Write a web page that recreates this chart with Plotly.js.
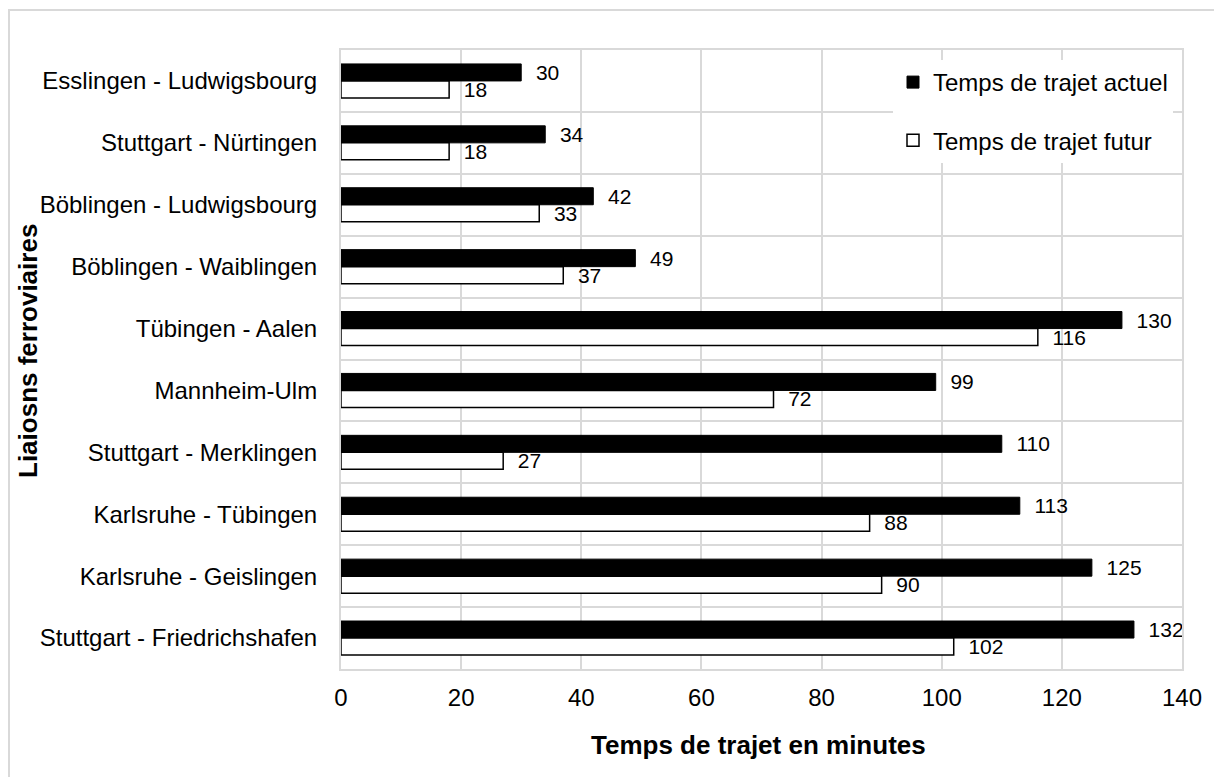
<!DOCTYPE html>
<html>
<head>
<meta charset="utf-8">
<script src="https://cdn.plot.ly/plotly-3.0.1.min.js"></script>
<style>
html,body{margin:0;padding:0;background:#fff;}
#chart{width:1214px;height:777px;}
</style>
</head>
<body>
<div id="chart"></div>
<script>
// Data (top-to-bottom order as in the chart)
const categories = [
  "Esslingen - Ludwigsbourg",
  "Stuttgart - Nürtingen",
  "Böblingen - Ludwigsbourg",
  "Böblingen - Waiblingen",
  "Tübingen - Aalen",
  "Mannheim-Ulm",
  "Stuttgart - Merklingen",
  "Karlsruhe - Tübingen",
  "Karlsruhe - Geislingen",
  "Stuttgart - Friedrichshafen"
];
const tempsActuel = [30, 34, 42, 49, 130, 99, 110, 113, 125, 132];
const tempsFutur  = [18, 18, 33, 37, 116, 72, 27, 88, 90, 102];
const seriesNames = ["Temps de trajet actuel", "Temps de trajet futur"];
const xTicks = [0, 20, 40, 60, 80, 100, 120, 140];
const xTitle = "Temps de trajet en minutes";
const yTitle = "Liaiosns ferroviaires";

const FONT = "Liberation Sans, Arial, sans-serif";
const pad = "\u00a0\u00a0";

const traces = [
  {
    type: "bar", orientation: "h", name: seriesNames[0],
    y: categories, x: tempsActuel,
    marker: {color: "#000000", line: {color: "#000000", width: 1}},
    text: tempsActuel.map(v => pad + v), textposition: "outside",
    constraintext: "none", cliponaxis: false,
    textfont: {family: FONT, size: 21, color: "#000"},
    legendgroup: "a", hoverinfo: "x+y"
  },
  {
    type: "bar", orientation: "h", name: seriesNames[1],
    y: categories, x: tempsFutur,
    marker: {color: "#ffffff", line: {color: "#000000", width: 1.5}},
    text: tempsFutur.map(v => pad + v), textposition: "outside",
    constraintext: "none", cliponaxis: false,
    textfont: {family: FONT, size: 21, color: "#000"},
    legendgroup: "b", hoverinfo: "x+y"
  }
];

const W = 841, H = 619, L = 341, T = 50;
const layout = {
  width: 1214, height: 777,
  margin: {l: L, r: 1214 - L - W, t: T, b: 777 - T - H, pad: 0},
  paper_bgcolor: "#fff", plot_bgcolor: "#fff",
  font: {family: FONT, size: 24, color: "#000"},
  barmode: "group", bargap: 0.45, bargroupgap: 0,
  showlegend: true,
  legend: {
    x: 1 - 9 / W, xanchor: "right", y: 1 - 10 / H, yanchor: "top",
    bgcolor: "#ffffff", borderwidth: 0,
    font: {family: FONT, size: 24, color: "#000"},
    traceorder: "grouped", tracegroupgap: 24,
    itemwidth: 30
  },
  xaxis: {
    range: [0, 140], tickvals: xTicks, ticktext: xTicks.map(String),
    showgrid: true, gridcolor: "#d9d9d9", gridwidth: 2,
    zeroline: false, showline: true, linecolor: "#d9d9d9", linewidth: 2, mirror: true,
    ticks: "", tickfont: {family: FONT, size: 24, color: "#000"},
    ticklabelstandoff: 6,
    fixedrange: true
  },
  yaxis: {
    type: "category", autorange: "reversed",
    categoryorder: "array", categoryarray: categories,
    tickson: "boundaries", ticks: "",
    showgrid: true, gridcolor: "#d9d9d9", gridwidth: 2,
    zeroline: false, showline: true, linecolor: "#d9d9d9", linewidth: 2, mirror: true,
    tickfont: {family: FONT, size: 24, color: "#000"},
    ticklabelstandoff: 17,
    fixedrange: true
  },
  annotations: [
    {text: "<b>" + xTitle + "</b>", xref: "paper", yref: "paper",
     x: (758 - L) / W, y: (T + H - 745) / H, xanchor: "center", yanchor: "middle",
     showarrow: false, font: {family: FONT, size: 26, color: "#000"}},
    {text: "<b>" + yTitle + "</b>", xref: "paper", yref: "paper",
     x: (28 - L) / W, y: (T + H - 351) / H, xanchor: "center", yanchor: "middle",
     textangle: -90, showarrow: false, font: {family: FONT, size: 26, color: "#000"}}
  ],
  shapes: [
    {type: "rect", xref: "paper", yref: "paper",
     x0: (9 - L) / W, x1: (1230 - L) / W, y0: (T + H - 800) / H, y1: (T + H - 10) / H,
     line: {color: "#d9d9d9", width: 2}, fillcolor: "rgba(0,0,0,0)", layer: "below"}
  ]
};

Plotly.newPlot("chart", traces, layout, {displayModeBar: false, staticPlot: true});
</script>
</body>
</html>
